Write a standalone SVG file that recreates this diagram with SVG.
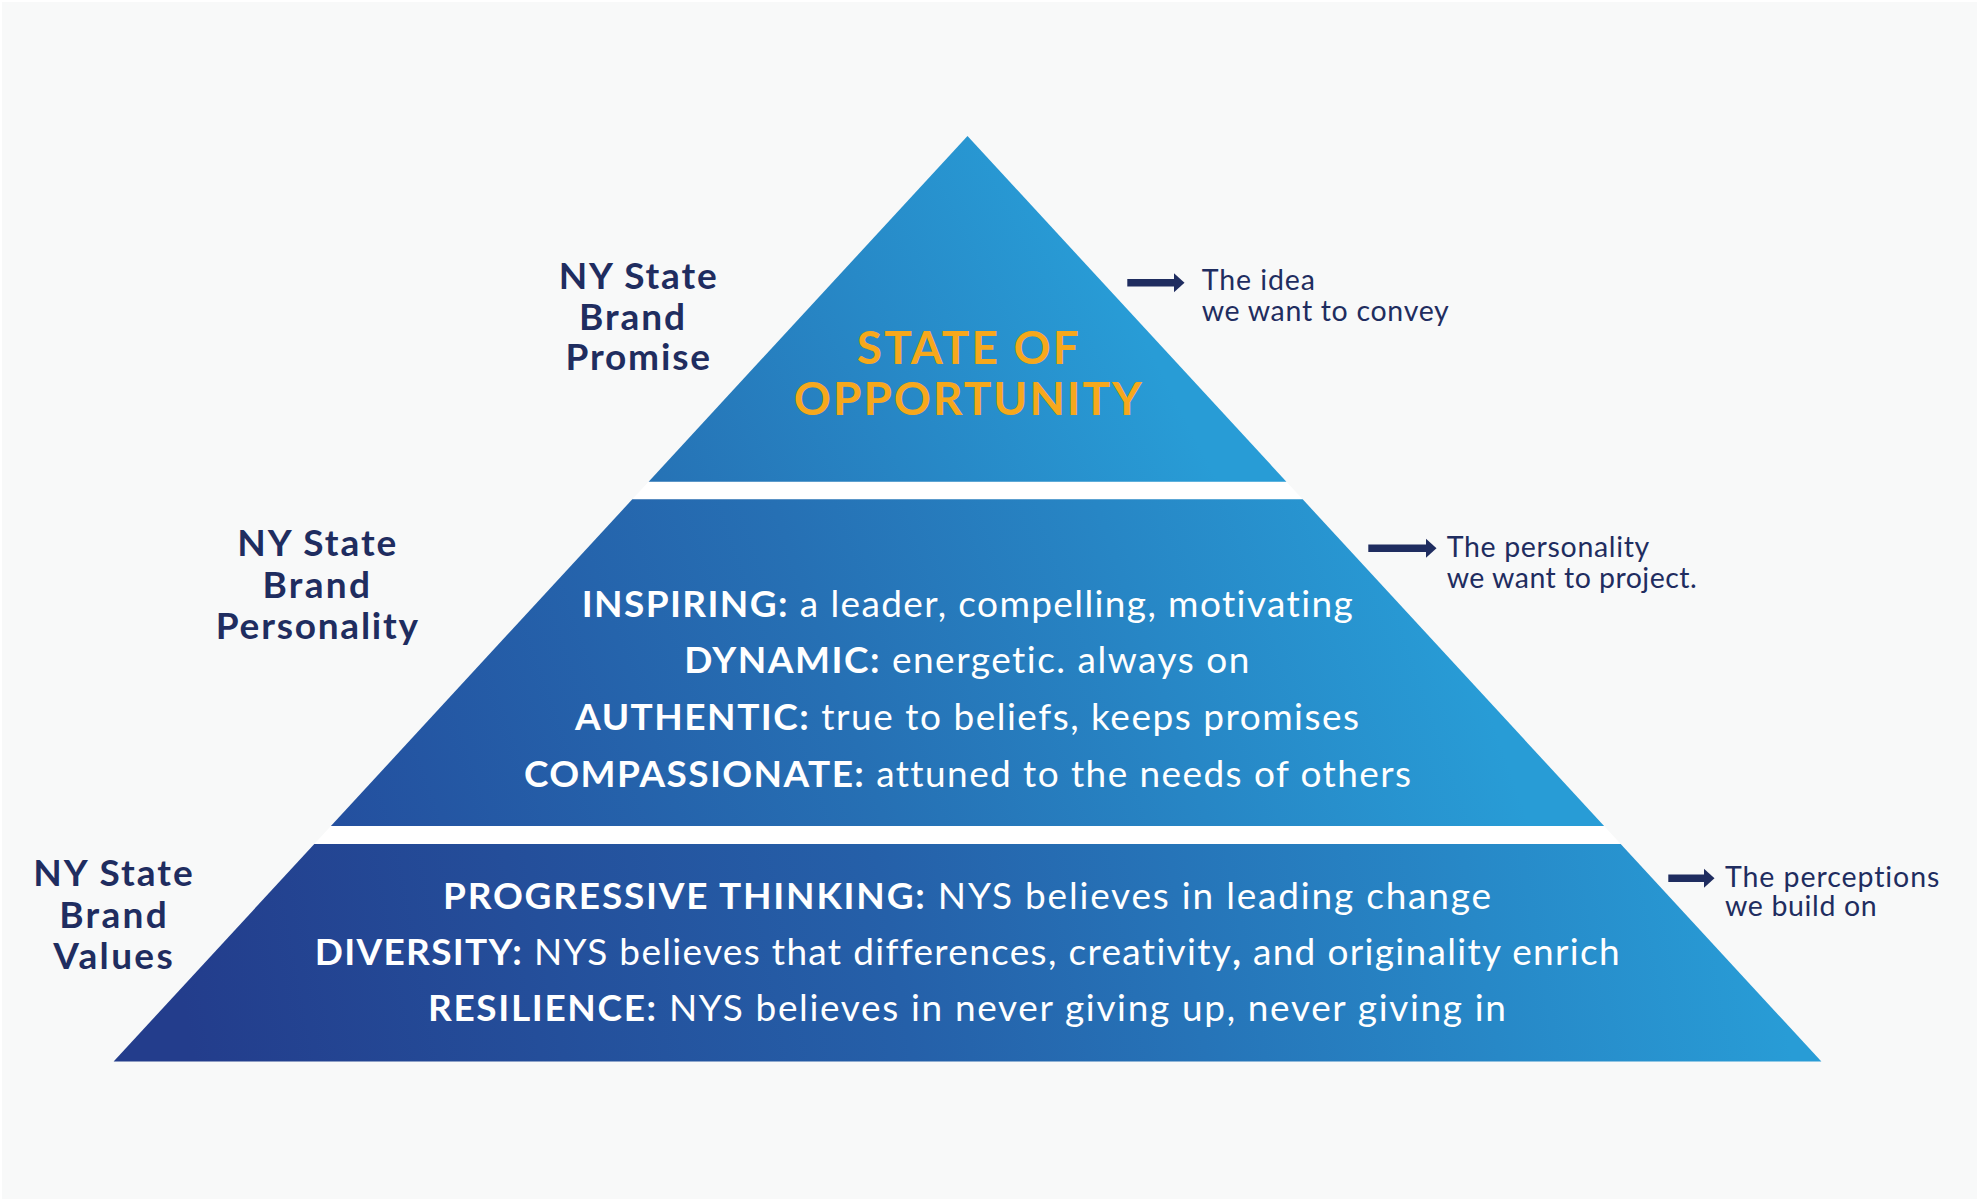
<svg xmlns="http://www.w3.org/2000/svg" width="1979" height="1201" viewBox="0 0 1979 1201">
  <defs>
    <linearGradient id="gTop" gradientUnits="userSpaceOnUse" x1="650" y1="481" x2="1100" y2="250">
      <stop offset="0" stop-color="#2672b5"/>
      <stop offset="1" stop-color="#289cd6"/>
    </linearGradient>
    <linearGradient id="gMid" gradientUnits="userSpaceOnUse" x1="250" y1="850" x2="1400" y2="450">
      <stop offset="0" stop-color="#234a9b"/>
      <stop offset="0.5" stop-color="#2670b4"/>
      <stop offset="1" stop-color="#289cd6"/>
    </linearGradient>
    <linearGradient id="gBot" gradientUnits="userSpaceOnUse" x1="200" y1="1100" x2="1750" y2="820">
      <stop offset="0" stop-color="#233d8c"/>
      <stop offset="0.45" stop-color="#2560a9"/>
      <stop offset="1" stop-color="#289cd6"/>
    </linearGradient>
    <marker id="head" markerUnits="userSpaceOnUse" markerWidth="12" markerHeight="20" refX="0" refY="9.5" orient="auto" viewBox="0 0 12 19">
      <path d="M0,0 L10.5,9.5 L0,19 Z" fill="#1f2d60"/>
    </marker>
    <style>
      text { font-variant-ligatures: none; font-feature-settings: "liga" 0, "clig" 0; }
      .lbl { font-family: Lato, "Liberation Sans", sans-serif; font-weight: 700; font-size: 37px; fill: #1f2d60; }
      .note { font-family: Lato, "Liberation Sans", sans-serif; font-weight: 400; font-size: 28.5px; fill: #1f2d60; }
      .promise { font-family: Lato, "Liberation Sans", sans-serif; font-weight: 700; font-size: 46px; fill: #f6a81c; text-anchor: middle; }
      .item { font-family: Lato, "Liberation Sans", sans-serif; font-weight: 400; font-size: 37px; fill: #ffffff; text-anchor: middle; }
      .item .b { font-weight: 700; }
      .arrow { stroke: #1f2d60; stroke-width: 7.6; fill: none; marker-end: url(#head); }
    </style>
  </defs>

  <rect x="0" y="0" width="1979" height="1201" fill="#ffffff"/>
  <rect x="2" y="2" width="1975" height="1197" fill="#f8f9f9"/>

  <g id="gaps">
    <polygon points="648.6,481.7 1286.4,481.7 1302.7,499.3 632.3,499.3" fill="#ffffff"/>
    <polygon points="330.9,826 1604.1,826 1620.7,844 314.3,844" fill="#ffffff"/>
  </g>

  <g id="promise">
    <polygon points="967.5,136 1286.4,481.7 648.6,481.7" fill="url(#gTop)"/>
    <text class="promise" x="967.8" y="364" textLength="222">STATE OF</text>
    <text class="promise" x="967.8" y="415" textLength="348">OPPORTUNITY</text>
  </g>

  <g id="personality">
    <polygon points="632.3,499.3 1302.7,499.3 1604.1,826 330.9,826" fill="url(#gMid)"/>
    <text class="item" x="967.2" y="617.3" textLength="771"><tspan class="b">INSPIRING:</tspan> a leader, compelling, motivating</text>
    <text class="item" x="966.8" y="673.4" textLength="565"><tspan class="b">DYNAMIC:</tspan> energetic. always on</text>
    <text class="item" x="967.1" y="730" textLength="784"><tspan class="b">AUTHENTIC:</tspan> true to beliefs, keeps promises</text>
    <text class="item" x="967.5" y="786.6" textLength="887"><tspan class="b">COMPASSIONATE:</tspan> attuned to the needs of others</text>
  </g>

  <g id="values">
    <polygon points="314.3,844 1620.7,844 1821.4,1061.5 113.6,1061.5" fill="url(#gBot)"/>
    <text class="item" x="967" y="909" textLength="1048"><tspan class="b">PROGRESSIVE THINKING:</tspan> NYS believes in leading change</text>
    <text class="item" x="967.2" y="965" textLength="1305"><tspan class="b">DIVERSITY:</tspan> NYS believes that differences, creativity<tspan class="b">,</tspan> and originality enrich</text>
    <text class="item" x="967" y="1021" textLength="1078"><tspan class="b">RESILIENCE:</tspan> NYS believes in never giving up, never giving in</text>
  </g>

  <g id="label-promise">
    <text class="lbl" x="558.7" y="289.3" textLength="158">NY State</text>
    <text class="lbl" x="579" y="329.5" textLength="106">Brand</text>
    <text class="lbl" x="565.5" y="370" textLength="144.5">Promise</text>
  </g>

  <g id="label-personality">
    <text class="lbl" x="237.3" y="556.2" textLength="159">NY State</text>
    <text class="lbl" x="262.5" y="598" textLength="107.5">Brand</text>
    <text class="lbl" x="215.8" y="639.3" textLength="202.3">Personality</text>
  </g>

  <g id="label-values">
    <text class="lbl" x="33.3" y="886" textLength="159.4">NY State</text>
    <text class="lbl" x="59.3" y="928.3" textLength="107.4">Brand</text>
    <text class="lbl" x="53.3" y="969.3" textLength="119.4">Values</text>
  </g>

  <g id="note-promise">
    <text class="note" x="1201.7" y="290" textLength="113.3">The idea</text>
    <text class="note" x="1201.7" y="321" textLength="247">we want to convey</text>
  </g>

  <g id="note-personality">
    <text class="note" x="1446.7" y="556.7" textLength="202.6">The personality</text>
    <text class="note" x="1446.7" y="588.3" textLength="250">we want to project.</text>
  </g>

  <g id="note-values">
    <text class="note" x="1725" y="886.7" textLength="214.3">The perceptions</text>
    <text class="note" x="1725" y="916" textLength="151.7">we build on</text>
  </g>

  <g id="connectors">
    <line class="arrow" x1="1127.3" y1="282.8" x2="1174" y2="282.8"/>
    <line class="arrow" x1="1368.3" y1="548.3" x2="1426" y2="548.3"/>
    <line class="arrow" x1="1668.3" y1="878.3" x2="1704" y2="878.3"/>
  </g>
</svg>
